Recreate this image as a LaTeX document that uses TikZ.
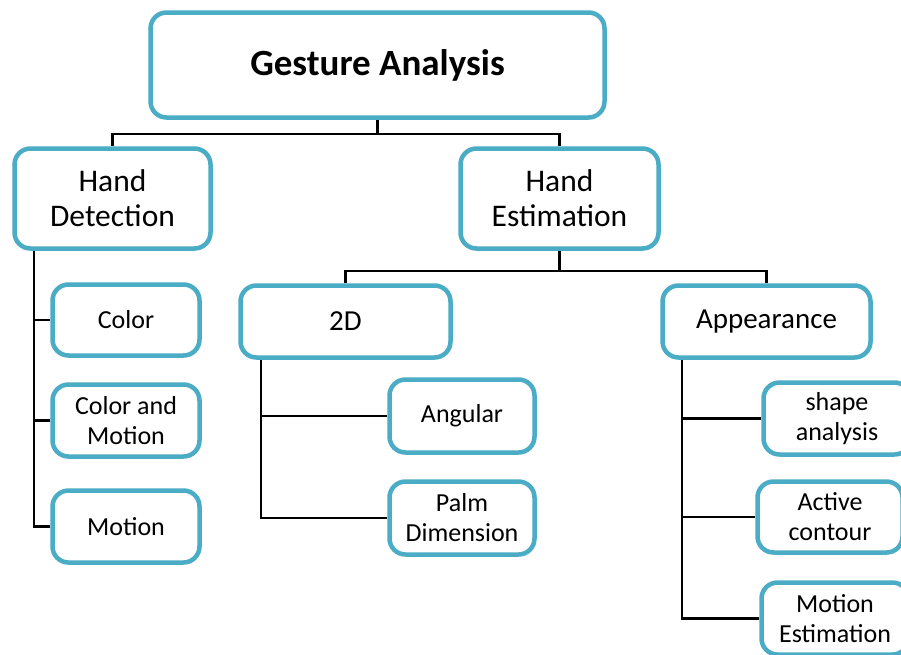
\documentclass[tikz,border=0pt]{standalone}
\usepackage{fontspec}
\setmainfont{Carlito}
\usetikzlibrary{backgrounds}
\definecolor{boxc}{HTML}{4BACC6}
\begin{document}
\begin{tikzpicture}[x=1pt,y=-1pt,
  box/.style={draw=boxc, line width=4.5pt, rounded corners=16pt, fill=white, align=center, inner sep=0pt},
  big/.style={font=\fontsize{31.5}{35}\selectfont},
  mid/.style={font=\fontsize{29}{33}\selectfont},
  small/.style={font=\fontsize{26}{30}\selectfont},
  link/.style={draw=black, line width=2.4pt}]
\useasboundingbox (0,0) rectangle (901,654);

\node[box, minimum width=454pt, minimum height=105pt, font=\fontsize{37}{42}\selectfont\bfseries] (GA) at (377.5,65) {Gesture Analysis};

\node[box, big, minimum width=196pt, minimum height=100pt] (HD) at (112.5,198.5) {Hand\\Detection};
\node[box, big, minimum width=198pt, minimum height=100pt] (HE) at (559.5,198.5) {Hand\\Estimation};

\node[box, small, minimum width=147pt, minimum height=71pt] (CO) at (126,320) {Color};
\node[box, small, minimum width=147pt, minimum height=72pt] (CM) at (126,420.5) {Color and\\Motion};
\node[box, small, minimum width=147pt, minimum height=72pt] (MO) at (126,526.5) {Motion};

\node[box, mid, minimum width=210pt, minimum height=72pt] (TD) at (345.5,321.5) {2D};
\node[box, small, minimum width=145pt, minimum height=73pt] (AN) at (462,416) {Angular};
\node[box, small, minimum width=145pt, minimum height=73pt] (PD) at (462,518) {Palm\\Dimension};

\node[box, mid, minimum width=208pt, minimum height=72pt] (AP) at (766.5,321.5) {Appearance};
\node[box, small, minimum width=147pt, minimum height=72pt] (SA) at (837,418.5) {shape\\analysis};
\node[box, small, minimum width=145pt, minimum height=71pt] (AC) at (830,517) {Active\\contour};
\node[box, small, minimum width=147pt, minimum height=72pt] (ME) at (835,618.5) {Motion\\Estimation};

\begin{pgfonlayer}{background}
  \fill[white] (0,0) rectangle (901,654);
  \coordinate (t1) at (378,134);
  \draw[link] (GA.south) -- (GA.south |- t1);
  \draw[link] (HD.north) |- (t1) -| (HE.north);

  \coordinate (t2) at (560,271);
  \draw[link] (HE.south) -- (HE.south |- t2);
  \draw[link] (TD.north) |- (t2) -| (AP.north);

  \coordinate (hdx) at ([xshift=21.5pt]HD.south west);
  \draw[link] (hdx) |- (MO.west);
  \draw[link] (CO.west) -- (CO.west -| hdx);
  \draw[link] (CM.west) -- (CM.west -| hdx);

  \coordinate (tdx) at ([xshift=22.5pt]TD.south west);
  \draw[link] (tdx) |- (PD.west);
  \draw[link] (AN.west) -- (AN.west -| tdx);

  \coordinate (apx) at ([xshift=21.5pt]AP.south west);
  \draw[link] (apx) |- (ME.west);
  \draw[link] (SA.west) -- (SA.west -| apx);
  \draw[link] (AC.west) -- (AC.west -| apx);
\end{pgfonlayer}
\end{tikzpicture}
\end{document}
